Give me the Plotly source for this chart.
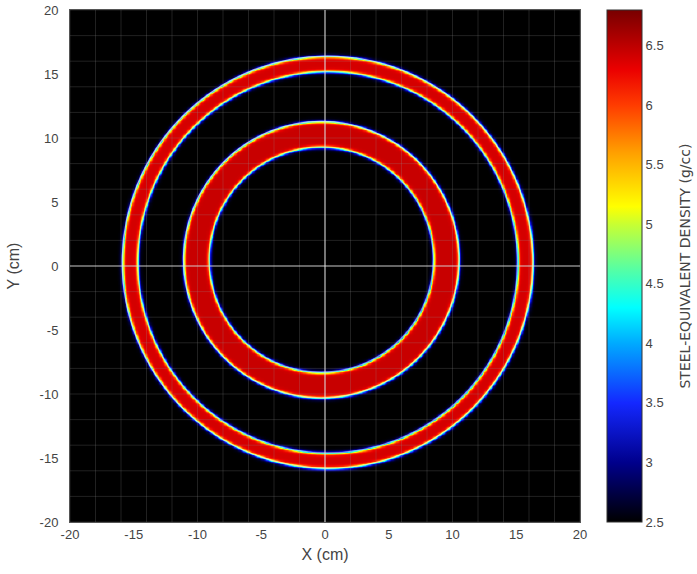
import numpy as np
import plotly.graph_objects as go

# ---- data ----
axis_ticks = [-20, -15, -10, -5, 0, 5, 10, 15, 20]
axis_tick_labels = ["-20", "-15", "-10", "-5", "0", "5", "10", "15", "20"]
grid_lines = list(range(-20, 21, 2))
cbar_ticks = [2.5, 3, 3.5, 4, 4.5, 5, 5.5, 6, 6.5]
cbar_tick_labels = ["2.5", "3", "3.5", "4", "4.5", "5", "5.5", "6", "6.5"]
cbar_title = "STEEL-EQUIVALENT DENSITY (g/cc)"

# rings: centre x, centre y, inner radius, outer radius, density (g/cc)
ring_cx = [0.2, -0.3]
ring_cy = [0.3, 0.5]
ring_r_in = [14.9, 8.8]
ring_r_out = [16.1, 10.8]
ring_density = [6.4, 6.45]
background_density = 2.5
edge_width = 0.07
zmin, zmax = 2.5, 6.8

# ---- build the density image ----
xs = np.round(np.arange(-20, 20.001, 0.1), 2)
ys = np.round(np.arange(-20, 20.001, 0.1), 2)
X, Y = np.meshgrid(xs, ys)
Z = np.full(X.shape, background_density)
for cx, cy, ri, ro, rho in zip(ring_cx, ring_cy, ring_r_in, ring_r_out, ring_density):
    R = np.hypot(X - cx, Y - cy)
    m = 1 / (1 + np.exp(-(R - ri) / edge_width)) * 1 / (1 + np.exp(-(ro - R) / edge_width))
    Z = np.maximum(Z, background_density + (rho - background_density) * m)
Z = np.round(Z, 2)

def f(v):
    return (v - zmin) / (zmax - zmin)

colorscale = [
    [0.0, "rgb(0,0,0)"],
    [f(3.0), "rgb(0,0,140)"],
    [f(3.5), "rgb(20,40,255)"],
    [f(4.0), "rgb(0,170,255)"],
    [f(4.3), "rgb(0,255,255)"],
    [f(4.6), "rgb(80,255,170)"],
    [f(5.0), "rgb(200,255,50)"],
    [f(5.15), "rgb(255,255,0)"],
    [f(5.6), "rgb(255,160,0)"],
    [f(6.0), "rgb(255,60,0)"],
    [f(6.3), "rgb(235,0,0)"],
    [1.0, "rgb(120,0,0)"],
]

fig = go.Figure()
fig.add_trace(go.Heatmap(
    x=xs, y=ys, z=Z, zmin=zmin, zmax=zmax, colorscale=colorscale,
    zsmooth="best", hoverinfo="skip",
    colorbar=dict(
        tickvals=cbar_ticks, ticktext=cbar_tick_labels,
        tickfont=dict(size=13, color="#444"),
        x=1.053, xanchor="left", xpad=0, ypad=0,
        thickness=35, len=1.0, y=0.5, yanchor="middle",
        outlinewidth=1, outlinecolor="#333", ticks="",
    ),
))

shapes = []
for g in grid_lines:
    shapes.append(dict(type="line", xref="x", yref="paper", x0=g, x1=g, y0=0, y1=1,
                       line=dict(color="rgba(150,150,150,0.22)", width=1), layer="above"))
    shapes.append(dict(type="line", xref="paper", yref="y", y0=g, y1=g, x0=0, x1=1,
                       line=dict(color="rgba(150,150,150,0.22)", width=1), layer="above"))
shapes.append(dict(type="line", xref="x", yref="paper", x0=0, x1=0, y0=0, y1=1,
                   line=dict(color="rgba(230,230,230,0.8)", width=1.2), layer="above"))
shapes.append(dict(type="line", xref="paper", yref="y", y0=0, y1=0, x0=0, x1=1,
                   line=dict(color="rgba(230,230,230,0.8)", width=1.2), layer="above"))
# pale rim lines along the ring boundaries
for cx, cy, ri, ro in zip(ring_cx, ring_cy, ring_r_in, ring_r_out):
    for r, a in ((ro, 0.75), (ri, 0.5)):
        shapes.append(dict(type="circle", xref="x", yref="y", x0=cx - r, x1=cx + r,
                           y0=cy - r, y1=cy + r,
                           line=dict(color=f"rgba(240,235,215,{a})", width=1.3), layer="above"))

fig.update_layout(
    width=697, height=574,
    margin=dict(l=70, r=117, t=10, b=52, autoexpand=False),
    paper_bgcolor="white", plot_bgcolor="black",
    font=dict(family="Liberation Sans, Arial, sans-serif", size=13, color="#444"),
    shapes=shapes,
    annotations=[dict(text=cbar_title, xref="paper", yref="paper", x=1.205, y=0.5,
                      xanchor="center", yanchor="middle", textangle=-90, showarrow=False,
                      font=dict(family="DejaVu Sans, sans-serif", size=14, color="#444"))],
    xaxis=dict(range=[-20, 20], tickvals=axis_ticks, ticktext=axis_tick_labels,
               showgrid=False, zeroline=False, ticks="", showline=True, linecolor="#555",
               mirror=True, automargin=False, ticklabeloverflow="allow",
               title=dict(text="X (cm)", standoff=8), tickfont=dict(size=13)),
    yaxis=dict(range=[-20, 20], tickvals=axis_ticks, ticktext=axis_tick_labels,
               showgrid=False, zeroline=False, ticks="", showline=True, linecolor="#555",
               mirror=True, automargin=False, ticklabeloverflow="allow",
               ticklabelstandoff=8,
               title=dict(text="Y (cm)", standoff=16), tickfont=dict(size=13)),
)

fig.write_html("out.html", config={"displayModeBar": False},
               post_script="document.body.style.margin='0';")
